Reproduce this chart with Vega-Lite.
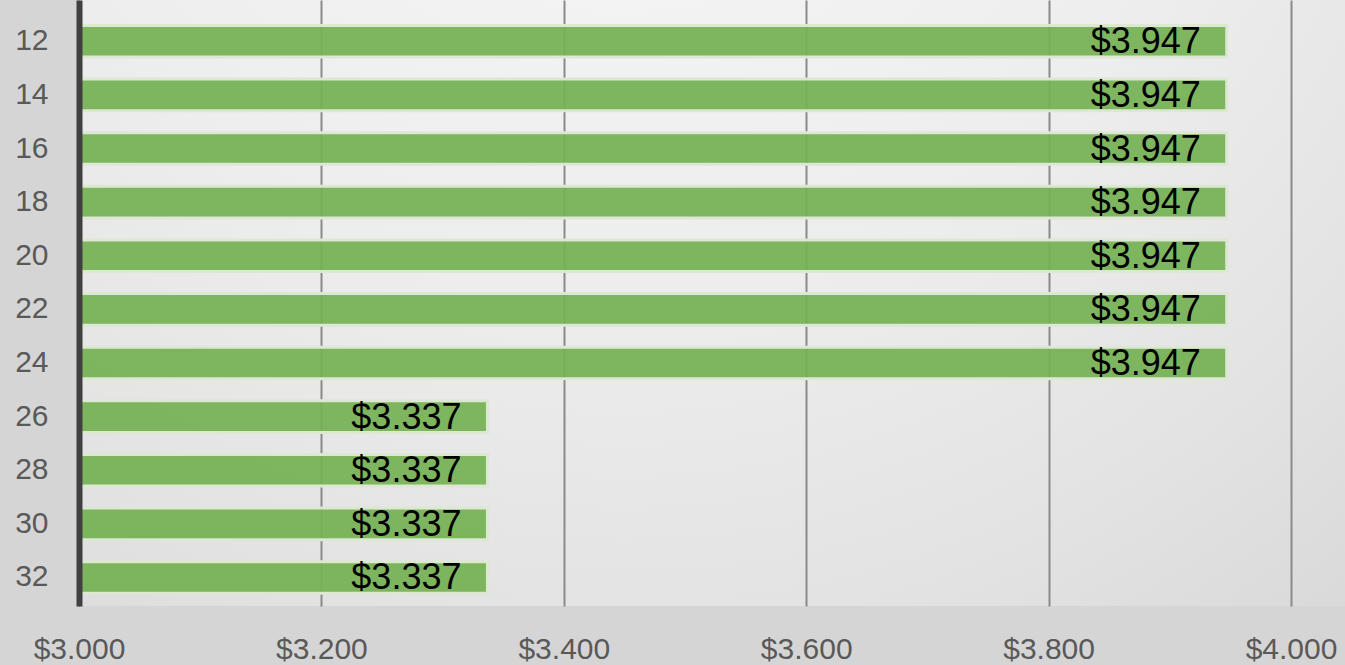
{
  "$schema": "https://vega.github.io/schema/vega-lite/v6.json",
  "width": 1266,
  "height": 606,
  "autosize": {"type": "none"},
  "padding": {"left": 79, "top": 0, "right": 0, "bottom": 59},
  "background": "#d5d5d5",
  "view": {"stroke": null, "fill": {"gradient": "radial", "x1": 0.43, "y1": 0, "r1": 0, "x2": 0.43, "y2": 0, "r2": 1,
    "stops": [{"offset": 0, "color": "#f9f9f9"}, {"offset": 0.5, "color": "#ededed"}, {"offset": 0.75, "color": "#e3e3e3"}, {"offset": 1, "color": "#d6d6d6"}]}},
  "config": {"font": "Liberation Sans"},
  "data": {"values": [
    {"size": "12", "price": 3.947},
    {"size": "14", "price": 3.947},
    {"size": "16", "price": 3.947},
    {"size": "18", "price": 3.947},
    {"size": "20", "price": 3.947},
    {"size": "22", "price": 3.947},
    {"size": "24", "price": 3.947},
    {"size": "26", "price": 3.337},
    {"size": "28", "price": 3.337},
    {"size": "30", "price": 3.337},
    {"size": "32", "price": 3.337}
  ]},
  "encoding": {
    "y": {"field": "size", "type": "nominal", "sort": null,
      "scale": {"paddingInner": 0.41, "paddingOuter": 0.356, "align": 0.667},
      "axis": {"title": null, "ticks": false, "domainColor": "#404040", "domainWidth": 6, "labelFontSize": 30, "labelColor": "#595959", "labelPadding": 31, "grid": false, "zindex": 1}},
    "x": {"field": "price", "type": "quantitative",
      "scale": {"domain": [3, 4.04455], "zero": false, "nice": false},
      "axis": {"title": null, "values": [3, 3.2, 3.4, 3.6, 3.8, 4], "format": "$.3f", "ticks": false, "domain": false, "grid": true, "gridColor": "#8a8a8a", "gridWidth": 2, "labelFontSize": 30, "labelColor": "#595959", "labelPadding": 28, "labelFlush": false}}
  },
  "layer": [
    {"mark": {"type": "bar", "color": "#75b054", "fillOpacity": 0.93, "stroke": "#dde8d3", "strokeWidth": 3}, "encoding": {"x2": {"datum": 3}}},
    {"mark": {"type": "text", "align": "right", "baseline": "middle", "dx": -26, "dy": 1, "fontSize": 36, "color": "#000000"},
      "encoding": {"text": {"field": "price", "type": "quantitative", "format": "$.3f"}}}
  ]
}
